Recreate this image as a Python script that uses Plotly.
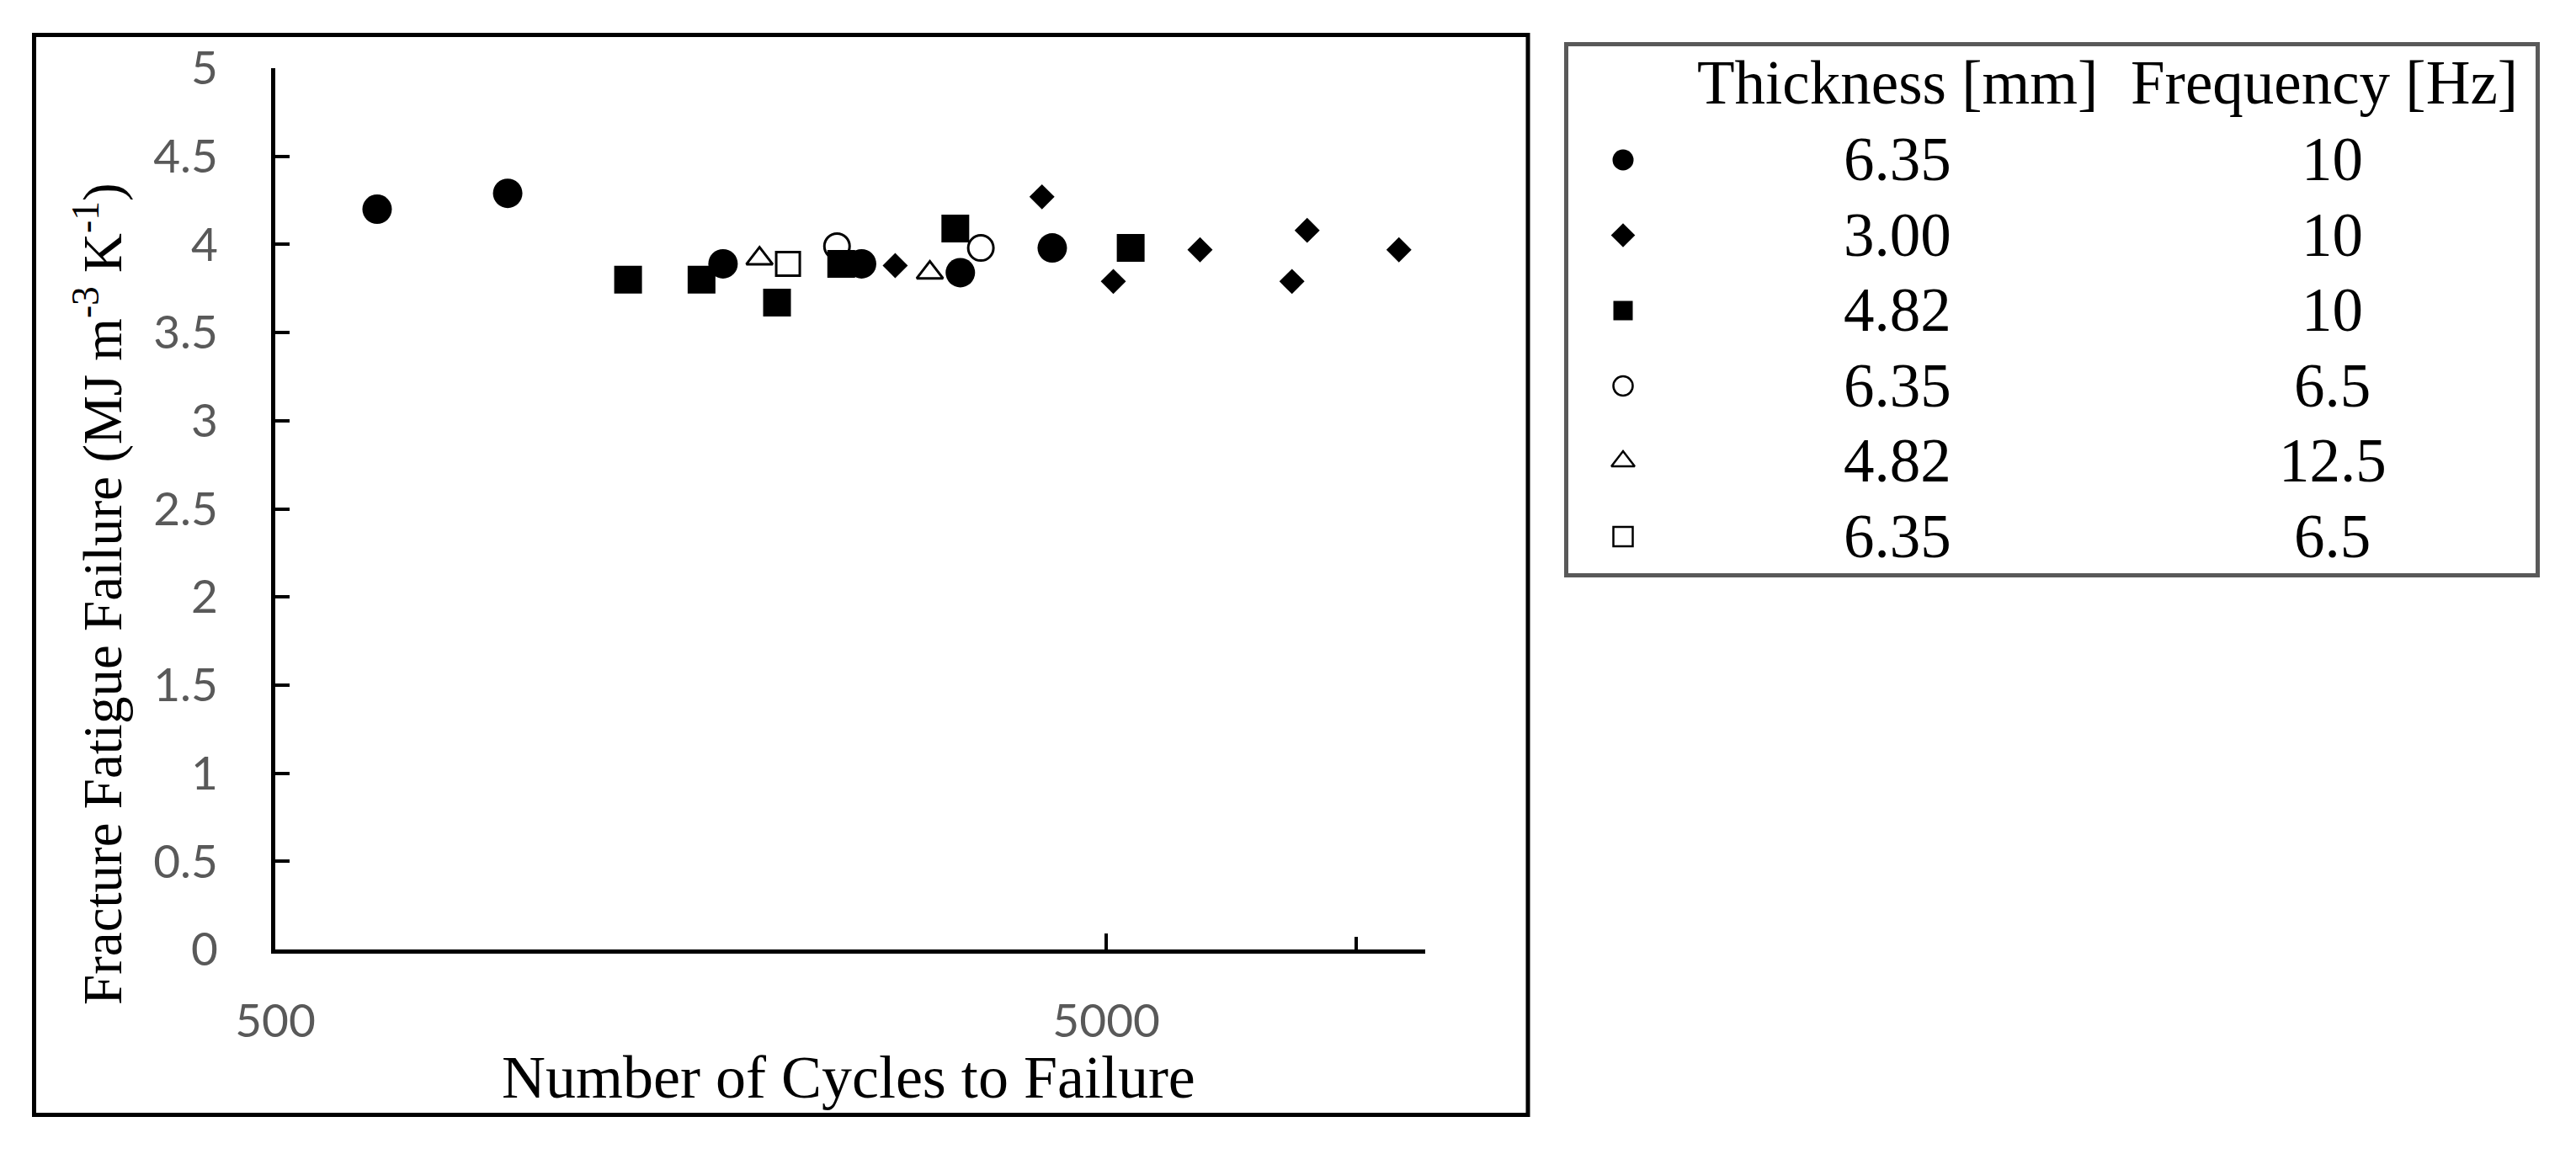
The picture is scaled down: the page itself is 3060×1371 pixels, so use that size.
import math
import plotly.graph_objects as go

W, H = 3060, 1371

# ---------------- data ----------------
series_names = ["6.35 mm, 10 Hz", "3.00 mm, 10 Hz", "4.82 mm, 10 Hz",
                "6.35 mm, 6.5 Hz", "4.82 mm, 12.5 Hz", "6.35 mm, 6.5 Hz (b)"]

cycles_635_10 = [663, 952, 1729, 2538, 3337, 4305]
ffe_635_10 = [4.20, 4.29, 3.89, 3.89, 3.84, 3.98]

cycles_300_10 = [2786, 4184, 5099, 6483, 8364, 8724, 11250]
ffe_300_10 = [3.88, 4.27, 3.79, 3.97, 3.79, 4.08, 3.97]

cycles_482_10 = [1329, 1629, 2008, 2399, 3291, 5350]
ffe_482_10 = [3.80, 3.80, 3.67, 3.89, 4.09, 3.98]

cycles_635_65 = [2371, 3532]
ffe_635_65 = [3.99, 3.98]

cycles_482_125 = [1913, 3067]
ffe_482_125 = [3.92, 3.84]

cycles_635_65b = [2070]
ffe_635_65b = [3.89]

thickness_labels = ["6.35", "3.00", "4.82", "6.35", "4.82", "6.35"]
frequency_labels = ["10", "10", "10", "6.5", "12.5", "6.5"]
legend_header = ["Thickness [mm]", "Frequency [Hz]"]

x_tick_vals = [500, 5000]
x_tick_text = ["500", "5000"]
x_minor_tick_vals = [10000, 12100]
y_tick_vals = [0, 0.5, 1, 1.5, 2, 2.5, 3, 3.5, 4, 4.5, 5]
y_tick_text = ["0", "0.5", "1", "1.5", "2", "2.5", "3", "3.5", "4", "4.5", "5"]

x_title = "Number of Cycles to Failure"
y_title = "Fracture Fatigue Failure (MJ m<sup>-3</sup> K<sup>-1</sup>)"

# ---------------- styles ----------------
SERIF = "Liberation Serif"
SANS = "Lato"
GRAY = "#595959"

symbols = ["circle", "diamond", "square", "circle-open", "triangle-up-open", "square-open"]
plot_sizes = [35, 23, 33, 30, 27, 28]
legend_sizes = [25, 22, 23, 23, 24, 23]
open_flags = [False, False, False, True, True, True]

xs = [cycles_635_10, cycles_300_10, cycles_482_10, cycles_635_65, cycles_482_125, cycles_635_65b]
ys = [ffe_635_10, ffe_300_10, ffe_482_10, ffe_635_65, ffe_482_125, ffe_635_65b]


def marker_style(sym, size, is_open, lw):
    return dict(symbol=sym, size=size, color="black", opacity=1,
                line=dict(width=lw if is_open else 0, color="black"))


fig = go.Figure()
for name, x, y, sym, sz, op in zip(series_names, xs, ys, symbols, plot_sizes, open_flags):
    fig.add_trace(go.Scatter(x=x, y=y, mode="markers", name=name,
                             marker=marker_style(sym, sz, op, 3),
                             showlegend=False, xaxis="x", yaxis="y"))

# legend symbols, drawn on a hidden helper axis pair (row index = y)
SYM_X, THK_X, FRQ_X, FRQ_HDR_X, HDR_Y = 0.0585, 0.341, 0.7886, 0.7799, -1.02
for i, (sym, sz, op) in enumerate(zip(symbols, legend_sizes, open_flags)):
    fig.add_trace(go.Scatter(x=[SYM_X], y=[i], mode="markers", showlegend=False,
                             xaxis="x2", yaxis="y2", hoverinfo="skip",
                             marker=marker_style(sym, sz, op, 2.5)))

tfont = dict(family=SERIF, size=73, color="black")
ann = []
for i, (t, f) in enumerate(zip(thickness_labels, frequency_labels)):
    ann.append(dict(x=THK_X, y=i, xref="x2", yref="y2", text=t, showarrow=False,
                    xanchor="center", yanchor="middle", font=tfont))
    ann.append(dict(x=FRQ_X, y=i, xref="x2", yref="y2", text=f, showarrow=False,
                    xanchor="center", yanchor="middle", font=tfont))
ann.append(dict(x=THK_X, y=HDR_Y, xref="x2", yref="y2", text=legend_header[0], showarrow=False,
                xanchor="center", yanchor="middle", font=tfont))
ann.append(dict(x=FRQ_HDR_X, y=HDR_Y, xref="x2", yref="y2", text=legend_header[1], showarrow=False,
                xanchor="center", yanchor="middle", font=tfont))

# axis titles
ann.append(dict(x=1008 / W, y=(H - 1280) / H, xref="paper", yref="paper", text=x_title,
                showarrow=False, xanchor="center", yanchor="middle",
                font=dict(family=SERIF, size=72, color="black")))
ann.append(dict(x=117 / W, y=(H - 706) / H, xref="paper", yref="paper", text=y_title,
                showarrow=False, xanchor="center", yanchor="middle", textangle=-90,
                font=dict(family=SERIF, size=65, color="black")))

shapes = [
    # outer chart frame
    dict(type="rect", xref="paper", yref="paper",
         x0=40.5 / W, x1=1815 / W, y0=(H - 1324.5) / H, y1=(H - 41.5) / H,
         line=dict(color="black", width=5), fillcolor="rgba(0,0,0,0)"),
    # legend box
    dict(type="rect", xref="x2 domain", yref="y2 domain", x0=0, x1=1, y0=0, y1=1,
         line=dict(color=GRAY, width=5), fillcolor="rgba(0,0,0,0)"),
]

fig.update_layout(
    width=W, height=H, autosize=False,
    margin=dict(l=0, r=0, t=0, b=0, pad=0),
    paper_bgcolor="white", plot_bgcolor="white",
    showlegend=False,
    xaxis=dict(type="log", range=[math.log10(500), math.log10(12100)],
               domain=[327 / W, 1693 / W], anchor="y",
               showline=True, linecolor="black", linewidth=5, mirror=False,
               ticks="inside", ticklen=19, tickwidth=4, tickcolor="black",
               tickmode="array", tickvals=x_tick_vals, ticktext=x_tick_text,
               minor=dict(tickmode="array", tickvals=x_minor_tick_vals, ticks="inside",
                          ticklen=15, tickwidth=4, tickcolor="black", showgrid=False),
               tickfont=dict(family=SANS, size=55, color=GRAY), ticklabelstandoff=33,
               showgrid=False, zeroline=False, automargin=False),
    yaxis=dict(range=[0, 5], domain=[(H - 1128) / H, (H - 81) / H], anchor="x",
               showline=True, linecolor="black", linewidth=5, mirror=False,
               ticks="inside", ticklen=17, tickwidth=4, tickcolor="black",
               tickmode="array", tickvals=y_tick_vals, ticktext=y_tick_text,
               tickfont=dict(family=SANS, size=55, color=GRAY), ticklabelstandoff=52,
               showgrid=False, zeroline=False, automargin=False),
    xaxis2=dict(domain=[1860.5 / W, 3014.5 / W], range=[0, 1], anchor="y2",
                visible=False, fixedrange=True),
    yaxis2=dict(domain=[(H - 683.5) / H, (H - 52.5) / H], range=[5.514, -1.536], anchor="x2",
                visible=False, fixedrange=True),
    annotations=ann,
    shapes=shapes,
)

fig.write_html("out.html", config={"displayModeBar": False},
               post_script="document.body.style.margin='0';document.body.style.overflow='hidden';")
